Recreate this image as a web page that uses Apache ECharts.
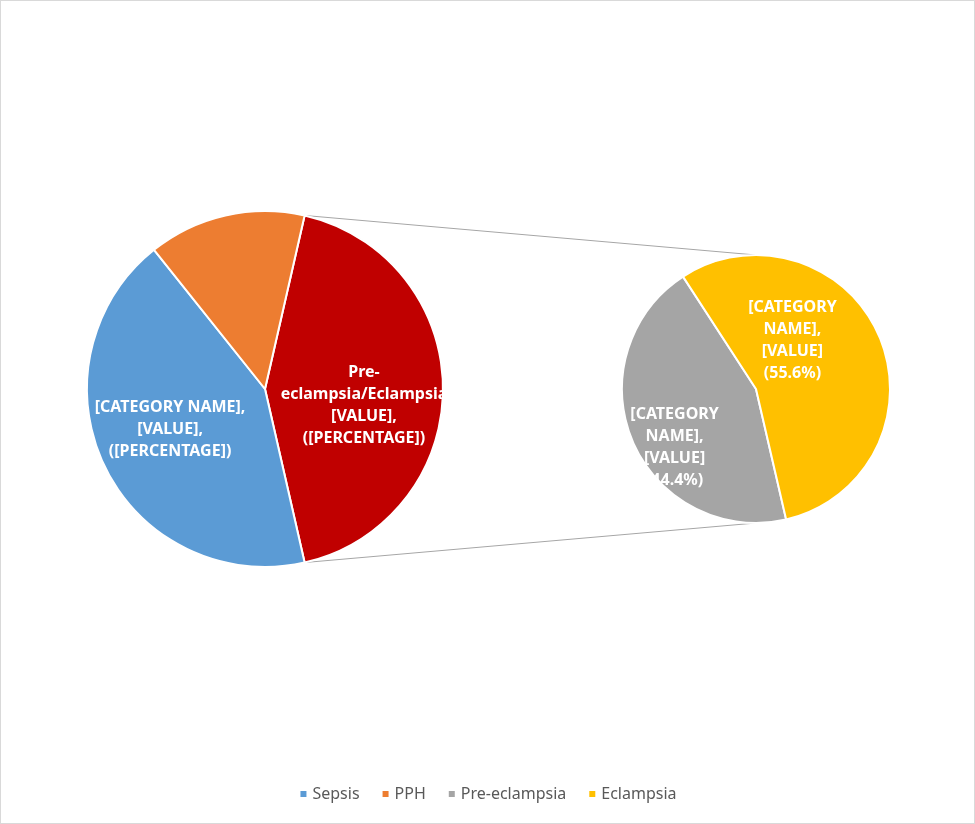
<!DOCTYPE html>
<html>
<head>
<meta charset="UTF-8">
<title>Pie of pie</title>
<script type="text/javascript" src="https://cdn.jsdelivr.net/npm/echarts@6/dist/echarts.min.js"></script>
<style>
html, body { margin: 0; padding: 0; background: #fff; }
#div { width: 975px; height: 824px; box-sizing: border-box; border: 1px solid #d9d9d9; }
</style>
</head>
<body>
	<div id="div"></div>

	<script type="text/javascript">
		// main pie
		var mainNames = [ 'Pre-eclampsia/Eclampsia', 'Sepsis', 'PPH' ];
		var mainValues = [ 9, 9, 3 ];
		var mainColors = [ '#c00000', '#5b9bd5', '#ed7d31' ];
		var mainLabels = [ 'Pre-\neclampsia/Eclampsia\n[VALUE],\n([PERCENTAGE])', '[CATEGORY NAME],\n[VALUE],\n([PERCENTAGE])', '' ];

		// second pie (split of the red slice)
		var subNames = [ 'Pre-eclampsia', 'Eclampsia' ];
		var subValues = [ 4, 5 ];
		var subColors = [ '#a5a5a5', '#ffc000' ];
		var subLabels = [ '[CATEGORY\nNAME],\n[VALUE]\n(44.4%)', '[CATEGORY\nNAME],\n[VALUE]\n(55.6%)' ];

		var legendNames = [ 'Sepsis', 'PPH', 'Pre-eclampsia', 'Eclampsia' ];

		var mainC = [ 264, 388 ], mainR = 178;
		var subC = [ 755, 388 ], subR = 134;

		var total = mainValues.reduce(function(a, b) { return a + b; }, 0);
		var half = 180 * mainValues[0] / total; // half span of red slice, degrees
		var rad = half * Math.PI / 180;
		var p1 = [ mainC[0] + mainR * Math.cos(rad), mainC[1] - mainR * Math.sin(rad) ];
		var p2 = [ mainC[0] + mainR * Math.cos(rad), mainC[1] + mainR * Math.sin(rad) ];

		var mainShift = [ [ 7, 16 ], [ -12, 1 ], [ 0, 0 ] ];
		var subShift = [ [ -17, 31 ], [ -28, -21 ] ];

		var labelFont = {
			color : '#fff',
			fontFamily : 'Noto Sans',
			fontWeight : 'bold',
			fontSize : 16,
			lineHeight : 22
		};

		function makeData(names, values, colors, labels) {
			var d = [];
			for (var i = 0; i < names.length; i++) {
				d.push({
					name : names[i],
					value : values[i],
					itemStyle : { color : colors[i] },
					label : { show : labels[i] !== '', formatter : labels[i] }
				});
			}
			return d;
		}

		var mychart = echarts.init(document.getElementById('div'));
		var option = {
			animation : false,
			legend : {
				data : legendNames,
				bottom : 16,
				left : 'center',
				icon : 'rect',
				itemWidth : 8,
				itemHeight : 8,
				itemGap : 21,
				selectedMode : false,
				textStyle : { color : '#595959', fontSize : 16, fontFamily : 'Noto Sans' }
			},
			graphic : [ {
				type : 'line',
				shape : { x1 : p1[0], y1 : p1[1], x2 : subC[0], y2 : subC[1] - subR },
				style : { stroke : '#a6a6a6', lineWidth : 1 }
			}, {
				type : 'line',
				shape : { x1 : p2[0], y1 : p2[1], x2 : subC[0], y2 : subC[1] + subR },
				style : { stroke : '#a6a6a6', lineWidth : 1 }
			} ],
			series : [ {
				name : 'main',
				type : 'pie',
				center : mainC,
				radius : mainR,
				startAngle : half,
				clockwise : true,
				avoidLabelOverlap : false,
				itemStyle : { borderColor : '#fff', borderWidth : 2 },
				label : Object.assign({ position : 'inside' }, labelFont),
				labelLine : { show : false },
				labelLayout : function(p) {
					return { dx : mainShift[p.dataIndex][0], dy : mainShift[p.dataIndex][1] };
				},
				emphasis : { disabled : true },
				data : makeData(mainNames, mainValues, mainColors, mainLabels)
			}, {
				name : 'sub',
				type : 'pie',
				center : subC,
				radius : subR,
				startAngle : -77,
				clockwise : true,
				avoidLabelOverlap : false,
				itemStyle : { borderColor : '#fff', borderWidth : 2 },
				label : Object.assign({ position : 'inside' }, labelFont),
				labelLine : { show : false },
				labelLayout : function(p) {
					return { dx : subShift[p.dataIndex][0], dy : subShift[p.dataIndex][1] };
				},
				emphasis : { disabled : true },
				data : makeData(subNames, subValues, subColors, subLabels)
			} ]
		};
		mychart.setOption(option);
	</script>
</body>
</html>
